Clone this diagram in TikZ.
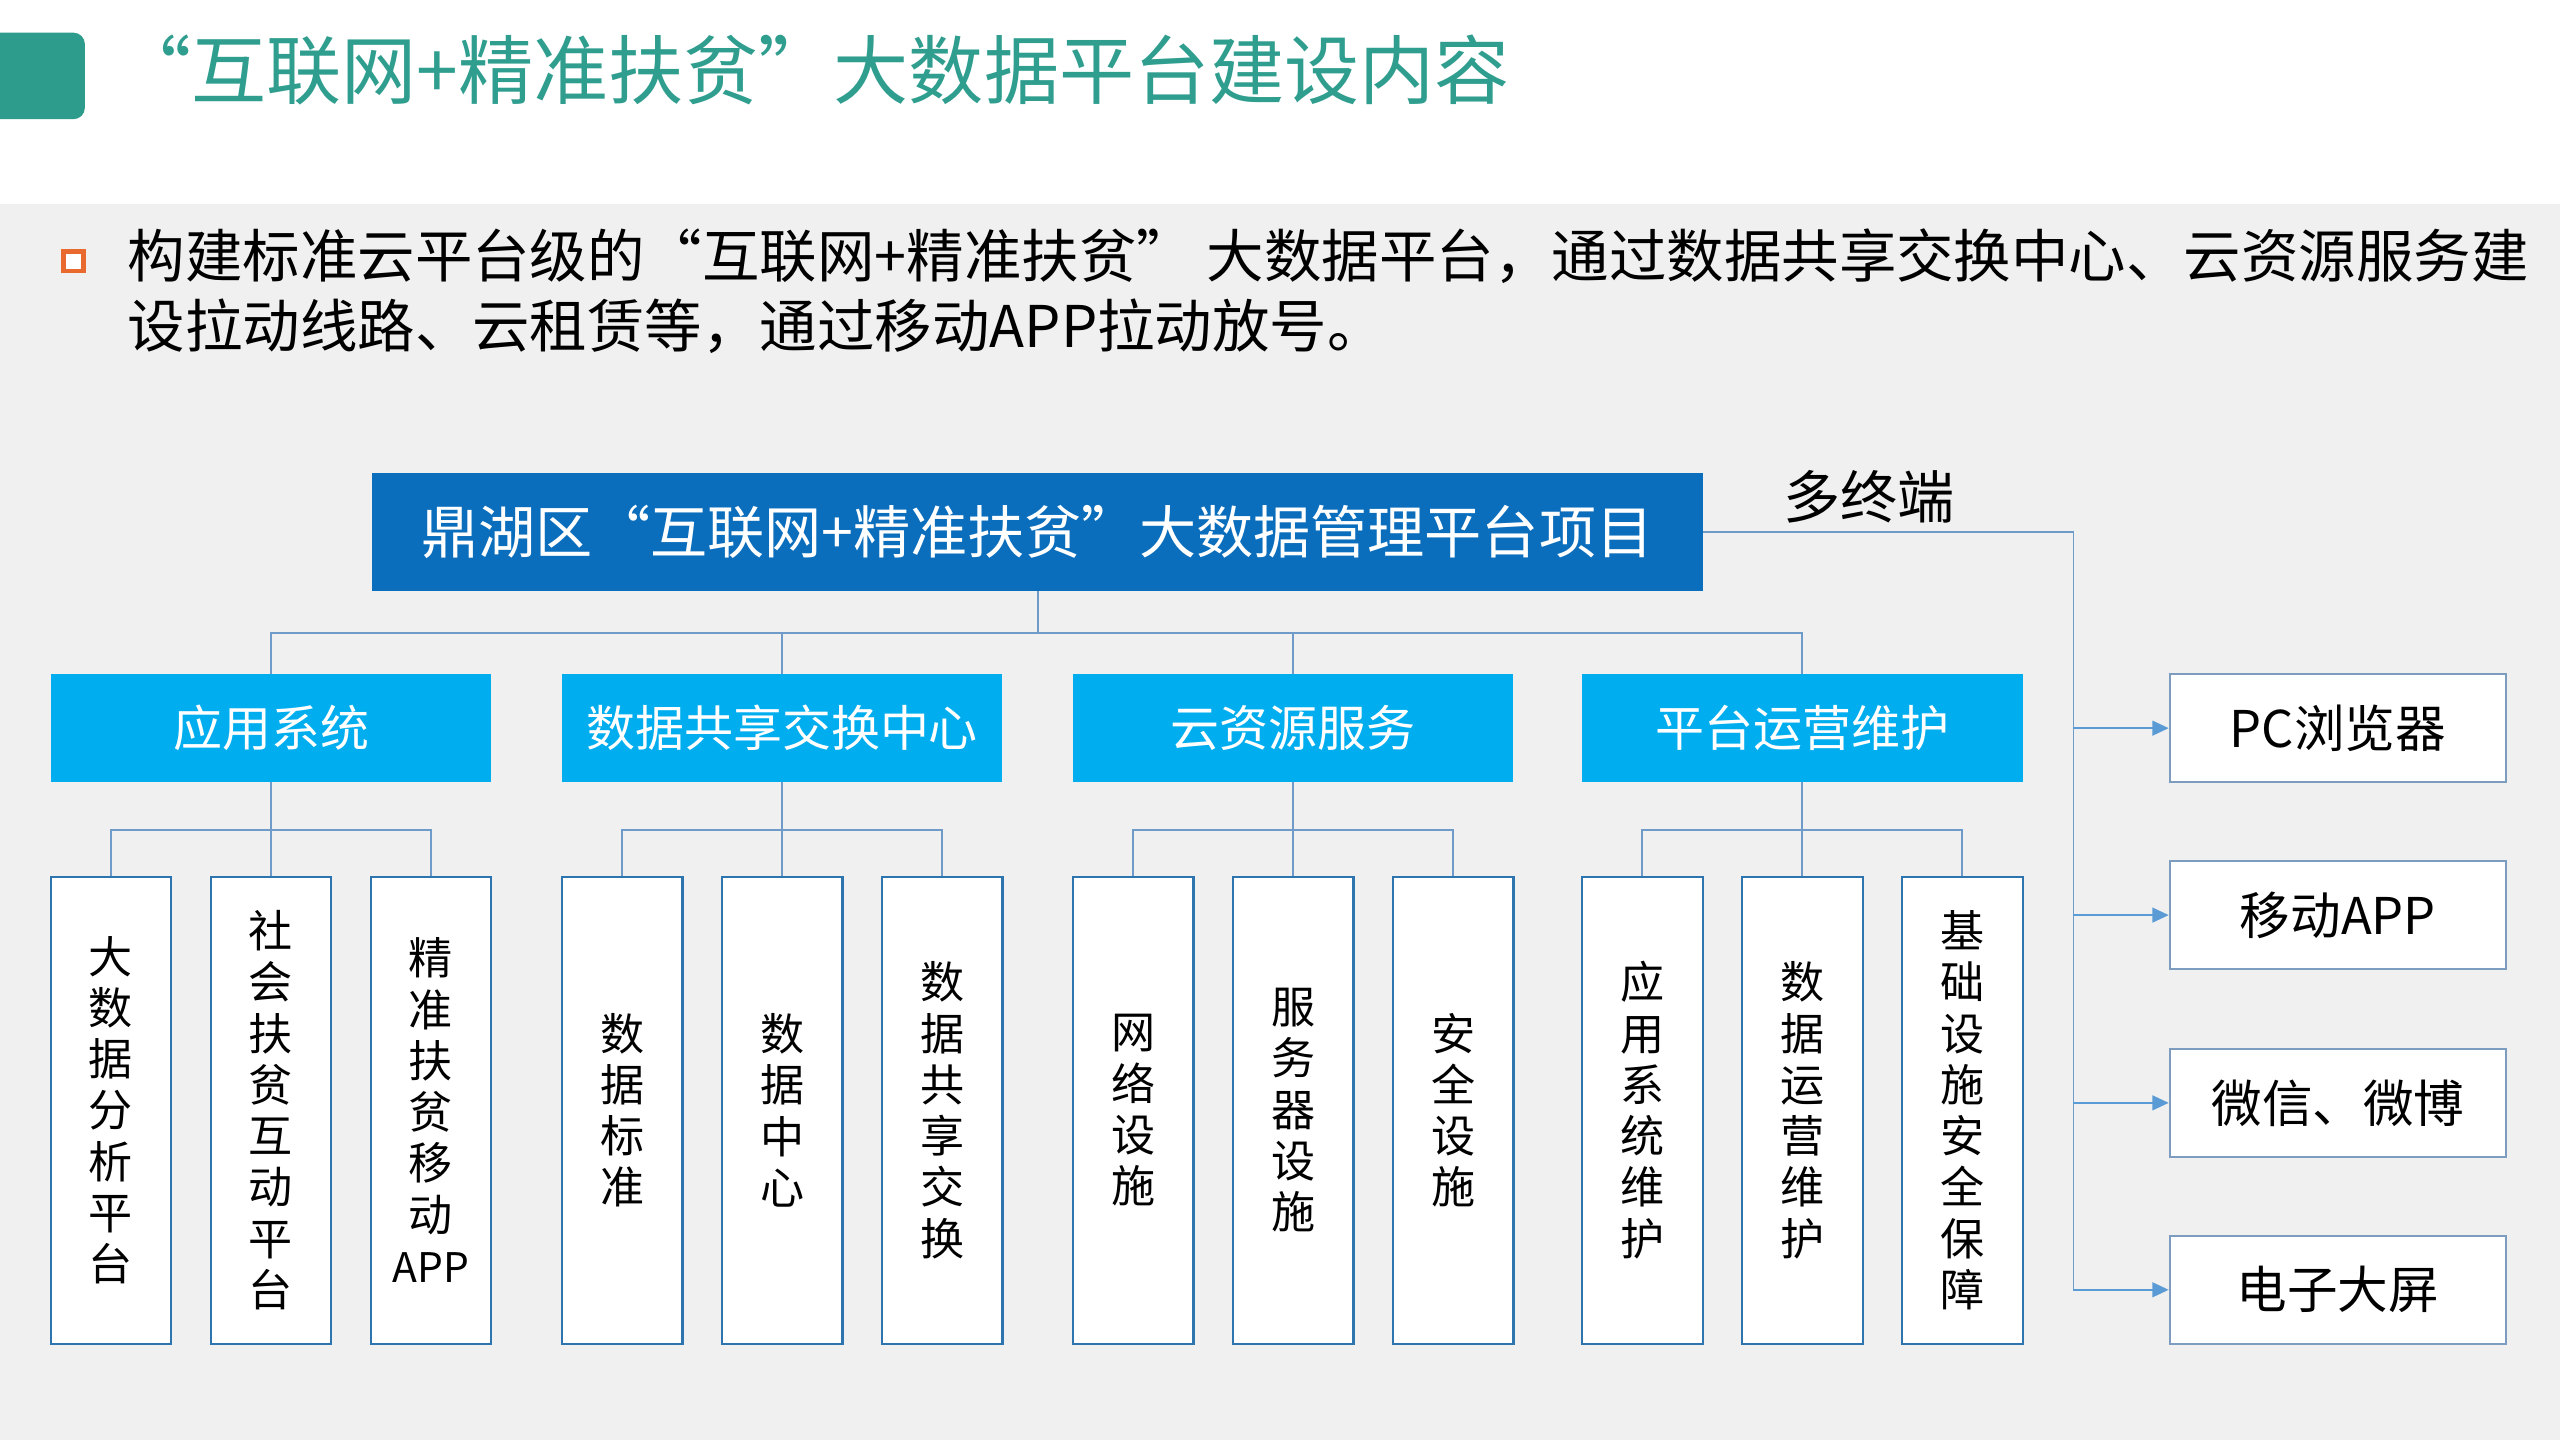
\documentclass[tikz,border=0pt]{standalone}
\usepackage{fontspec}
\setmainfont{Noto Sans CJK SC}
\usetikzlibrary{arrows.meta,calc}
\definecolor{tealbox}{HTML}{2E9C8C}
\definecolor{titlec}{HTML}{2F9E8F}
\definecolor{bgray}{HTML}{F0F0F0}
\definecolor{orangeb}{HTML}{E86A2E}
\definecolor{topblue}{HTML}{0A6EBD}
\definecolor{cyanb}{HTML}{00AEEF}
\definecolor{linec}{HTML}{6F9BC8}
\definecolor{lthree}{HTML}{2E75B0}
\definecolor{rborder}{HTML}{7C9DC0}
\definecolor{arrc}{HTML}{5B9BD5}
\tikzset{
  topbox/.style={fill=topblue, text=white, minimum width=815, minimum height=72, inner sep=0, font=\fontsize{35}{40}\selectfont},
  midbox/.style={fill=cyanb, text=white, minimum width=270, minimum height=66, inner sep=0, font=\fontsize{30}{36}\selectfont},
  leafbox/.style={draw=lthree, line width=1.3pt, fill=white, minimum width=74, minimum height=286, inner sep=0, align=center, font=\fontsize{27}{31.4}\selectfont},
  termbox/.style={draw=rborder, line width=1.3pt, fill=white, minimum width=206, minimum height=66, inner sep=0, font=\fontsize{31}{36}\selectfont},
  conn/.style={draw=linec, line width=1.2pt},
  arr/.style={draw=arrc, line width=1.3pt, -{Triangle[length=10pt,width=9pt]}},
}
\begin{document}
\begin{tikzpicture}[x=1pt,y=-1pt]
\fill[white] (0,0) rectangle (1568,882);
\fill[bgray] (0,125) rectangle (1568,882);
\useasboundingbox (0,0) rectangle (1568,882);
% header
\fill[tealbox, rounded corners=7pt] (-20,20) rectangle (52,73);
\node[anchor=west, text=titlec, font=\fontsize{46}{50}\selectfont, inner sep=0] (title) at (71,43) {“互联网+精准扶贫”大数据平台建设内容};
% bullet
\node[draw=orangeb, line width=3pt, fill=white, minimum size=12, inner sep=0] (bul) at (45,160) {};
\node[anchor=west, align=left, inner sep=0, font=\fontsize{35.2}{43}\selectfont] (btext) at (78,178.5) {构建标准云平台级的“互联网+精准扶贫” 大数据平台，通过数据共享交换中心、云资源服务建\\设拉动线路、云租赁等，通过移动APP拉动放号。};
% top
\node[topbox] (top) at (635.5,326) {鼎湖区“互联网+精准扶贫”大数据管理平台项目};
\node[font=\fontsize{35}{40}\selectfont, inner sep=0] (multi) at (1145,304) {多终端};
% level 2
\node[midbox] (a) at (166,446) {应用系统};
\node[midbox] (b) at (479,446) {数据共享交换中心};
\node[midbox] (c) at (792,446) {云资源服务};
\node[midbox] (d) at (1104,446) {平台运营维护};
% level 3
\node[leafbox] (a1) at (68,680) {大\\数\\据\\分\\析\\平\\台};
\node[leafbox] (a2) at (166,680) {社\\会\\扶\\贫\\互\\动\\平\\台};
\node[leafbox] (a3) at (264,680) {精\\准\\扶\\贫\\移\\动\\{\fontsize{25}{31.4}\selectfont APP}};
\node[leafbox] (b1) at (381,680) {数\\据\\标\\准};
\node[leafbox] (b2) at (479,680) {数\\据\\中\\心};
\node[leafbox] (b3) at (577,680) {数\\据\\共\\享\\交\\换};
\node[leafbox] (c1) at (694,680) {网\\络\\设\\施};
\node[leafbox] (c2) at (792,680) {服\\务\\器\\设\\施};
\node[leafbox] (c3) at (890,680) {安\\全\\设\\施};
\node[leafbox] (d1) at (1006,680) {应\\用\\系\\统\\维\\护};
\node[leafbox] (d2) at (1104,680) {数\\据\\运\\营\\维\\护};
\node[leafbox] (d3) at (1202,680) {基\\础\\设\\施\\安\\全\\保\\障};
% terminals
\node[termbox] (r1) at (1432,446) {PC浏览器};
\node[termbox] (r2) at (1432,560.5) {移动APP};
\node[termbox] (r3) at (1432,675.5) {微信、微博};
\node[termbox] (r4) at (1432,790) {电子大屏};
% tree connectors
\coordinate (bus) at (635.5,388);
\draw[conn] (top.south) -- (bus);
\draw[conn] (a.north) |- (bus) -| (d.north);
\draw[conn] (b.north) -- (b.north |- bus);
\draw[conn] (c.north) -- (c.north |- bus);
\foreach \g in {a,b,c,d}{
  \coordinate (\g bus) at ($(\g.south)+(0,29)$);
  \draw[conn] (\g.south) -- (\g 2.north);
  \draw[conn] (\g 1.north) |- (\g bus) -| (\g 3.north);
}
% terminal connectors
\coordinate (trunk) at (1270,326);
\draw[conn] (top.east) -- (trunk) -- (trunk |- r4.west);
\foreach \r in {r1,r2,r3,r4}{
  \draw[arr] (\r.west -| trunk) -- (\r.west);
}
\end{tikzpicture}
\end{document}
